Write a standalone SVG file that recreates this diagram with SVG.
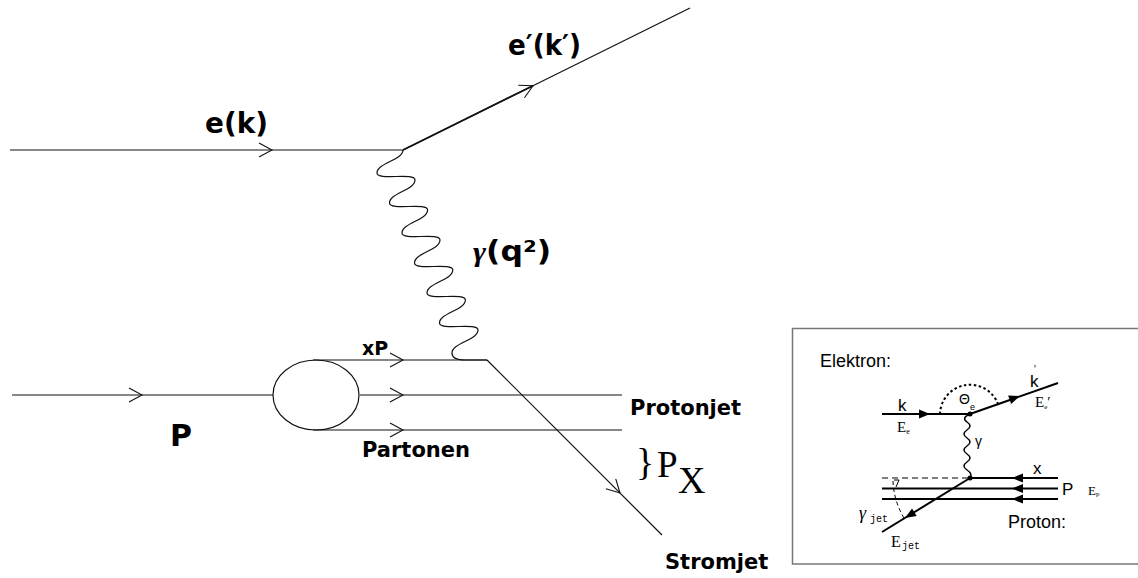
<svg xmlns="http://www.w3.org/2000/svg" width="1138" height="578" viewBox="0 0 1138 578">
<style>
.ln{fill:none;stroke:#111;stroke-width:1.2}
.ch{fill:none;stroke:#111;stroke-width:1.1}
.in{fill:none;stroke:#000;stroke-width:2}
.tri{fill:#000;stroke:none}
.big{font-family:"DejaVu Sans",sans-serif;font-weight:bold;fill:#000}
.ser{font-family:"Liberation Serif",serif;fill:#000}
.sans{font-family:"Liberation Sans",Arial,sans-serif;fill:#000}
.mono{font-family:"Liberation Mono",monospace;fill:#000}
</style>
<defs>
<path id="chev" d="M-13,-7 L0,0 L-13,7"/>
<path id="arr" d="M-11,-4.5 L0,0 L-11,4.5 Z"/>
</defs>
<rect x="0" y="0" width="1138" height="578" fill="#fff"/>

<g id="connectors">
<line class="ln" x1="10" y1="150" x2="403" y2="150"/>
<line class="ln" x1="403" y1="150" x2="690" y2="8"/>
<line x1="403" y1="150" x2="533" y2="85.7" stroke="#111" stroke-width="1.8"/>
<path class="ln" d="M403,150 C403,160 377,163 377,173 C377,181 415,172 415,180 C415,190 389.5,193 389.5,203 C389.5,211 427.6,202 427.6,210 C427.6,220 402,223 402,233 C402,241 440,232 440,240 C440,250 414.5,253 414.5,263 C414.5,271 452.8,262 452.8,270 C452.8,280 427,283 427,293 C427,301 465.4,292 465.4,300 C465.4,310 439.5,313 439.5,323 C439.5,331 478,322 478,330 C478,340 452,343 452,353 C452,358 458,360 465,360 L487,360"/>
<line class="ln" x1="12" y1="395" x2="273" y2="395"/>
<line class="ln" x1="313" y1="360" x2="487" y2="360"/>
<line class="ln" x1="360" y1="395" x2="622" y2="395"/>
<line class="ln" x1="313" y1="430" x2="622" y2="430"/>
<line class="ln" x1="487" y1="360" x2="662" y2="535"/>
<use href="#chev" class="ch" transform="translate(272,150)"/>
<use href="#chev" class="ch" transform="translate(533,85.7) rotate(-26.3)"/>
<use href="#chev" class="ch" transform="translate(142,395)"/>
<use href="#chev" class="ch" transform="translate(403,360)"/>
<use href="#chev" class="ch" transform="translate(403,395)"/>
<use href="#chev" class="ch" transform="translate(403,430)"/>
<use href="#chev" class="ch" transform="translate(620,493) rotate(45)"/>

<line class="in" x1="882" y1="414" x2="970" y2="414"/>
<line class="in" x1="970" y1="414" x2="1058" y2="383"/>
<path fill="none" stroke="#000" stroke-width="1.5" d="M970,414 Q961,418 967,422 T967,430 T967,438 T967,446 T967,454 T967,462 T967,470 T970,478"/>
<path fill="none" stroke="#000" stroke-width="2" stroke-dasharray="2.5,2.5" d="M940,414 A30,30 0 0 1 998,404"/>
<line x1="882" y1="478" x2="970" y2="478" stroke="#000" stroke-width="1.2" stroke-dasharray="6,4"/>
<line class="in" x1="970" y1="478" x2="1058" y2="478"/>
<line class="in" x1="882" y1="488.5" x2="1058" y2="488.5"/>
<line class="in" x1="882" y1="499" x2="1058" y2="499"/>
<line class="in" x1="970" y1="478" x2="882" y2="532"/>
<path fill="none" stroke="#000" stroke-width="1" stroke-dasharray="4,3" d="M893,481 A77,77 0 0 0 904,518"/>
<path fill="none" stroke="#000" stroke-width="1" d="M894,480 L899,480 L896,487"/>
<use href="#arr" class="tri" transform="translate(930,414)"/>
<use href="#arr" class="tri" transform="translate(1020,396) rotate(-19.4)"/>
<use href="#arr" class="tri" transform="translate(1012,478) rotate(180)"/>
<use href="#arr" class="tri" transform="translate(1012,488.5) rotate(180)"/>
<use href="#arr" class="tri" transform="translate(1012,499) rotate(180)"/>
<use href="#arr" class="tri" transform="translate(905,518) rotate(148.5)"/>
<circle cx="970" cy="414" r="2.5" fill="#000"/>
<circle cx="970" cy="478" r="2.5" fill="#000"/>
</g>

<g id="proton-blob">
<ellipse cx="316" cy="395" rx="43" ry="35" fill="none" stroke="#111" stroke-width="1.2"/>
</g>

<g id="labels-main">
<text class="big" x="205" y="133" font-size="28" textLength="63" lengthAdjust="spacingAndGlyphs">e(k)</text>
<text class="big" x="508" y="55" font-size="28" textLength="73" lengthAdjust="spacingAndGlyphs">e′(k′)</text>
<text class="big" x="473" y="261" font-size="28" textLength="78" lengthAdjust="spacingAndGlyphs"><tspan font-family="Liberation Serif" font-style="italic">γ</tspan>(q²)</text>
<text class="big" x="362" y="355" font-size="19">xP</text>
<text class="big" x="170" y="446" font-size="30">P</text>
<text class="big" x="362" y="457" font-size="21">Partonen</text>
<text class="big" x="630" y="415" font-size="21">Protonjet</text>
<text class="big" x="665" y="569" font-size="21">Stromjet</text>
<text class="ser" x="636" y="475" font-size="38">}</text>
<text class="ser" x="657" y="477" font-size="37">P</text>
<text class="ser" x="678" y="493" font-size="38">X</text>
</g>

<g id="inset">
<rect x="792.5" y="328.5" width="347" height="235.5" fill="none" stroke="#777" stroke-width="1.5"/>
<text class="sans" x="820" y="367" font-size="18">Elektron:</text>
<text class="sans" x="898" y="411" font-size="17">k</text>
<text class="ser" x="897" y="432" font-size="15">E<tspan font-size="8" dy="2">e</tspan></text>
<text class="sans" x="959" y="404" font-size="14">Θ<tspan font-size="9" dy="6">e</tspan></text>
<text class="sans" x="1030" y="387" font-size="17">k</text>
<text class="sans" x="1034" y="373" font-size="10">'</text>
<text class="ser" x="1035" y="407" font-size="15">E<tspan font-size="7" dy="2">e</tspan><tspan dy="-2">′</tspan></text>
<text class="sans" x="975" y="446" font-size="14">γ</text>
<text class="sans" x="1033" y="474" font-size="17">x</text>
<text class="sans" x="1062" y="495" font-size="17">P</text>
<text class="ser" x="1088" y="495" font-size="13">E<tspan font-size="7" dy="1">p</tspan></text>
<text class="sans" x="1008" y="528" font-size="18">Proton:</text>
<text class="ser" x="859" y="519" font-size="18" font-style="italic">γ</text>
<text class="mono" x="870" y="522" font-size="10">jet</text>
<text class="ser" x="891" y="547" font-size="16">E</text>
<text class="mono" x="902" y="549" font-size="10">jet</text>
</g>
</svg>
